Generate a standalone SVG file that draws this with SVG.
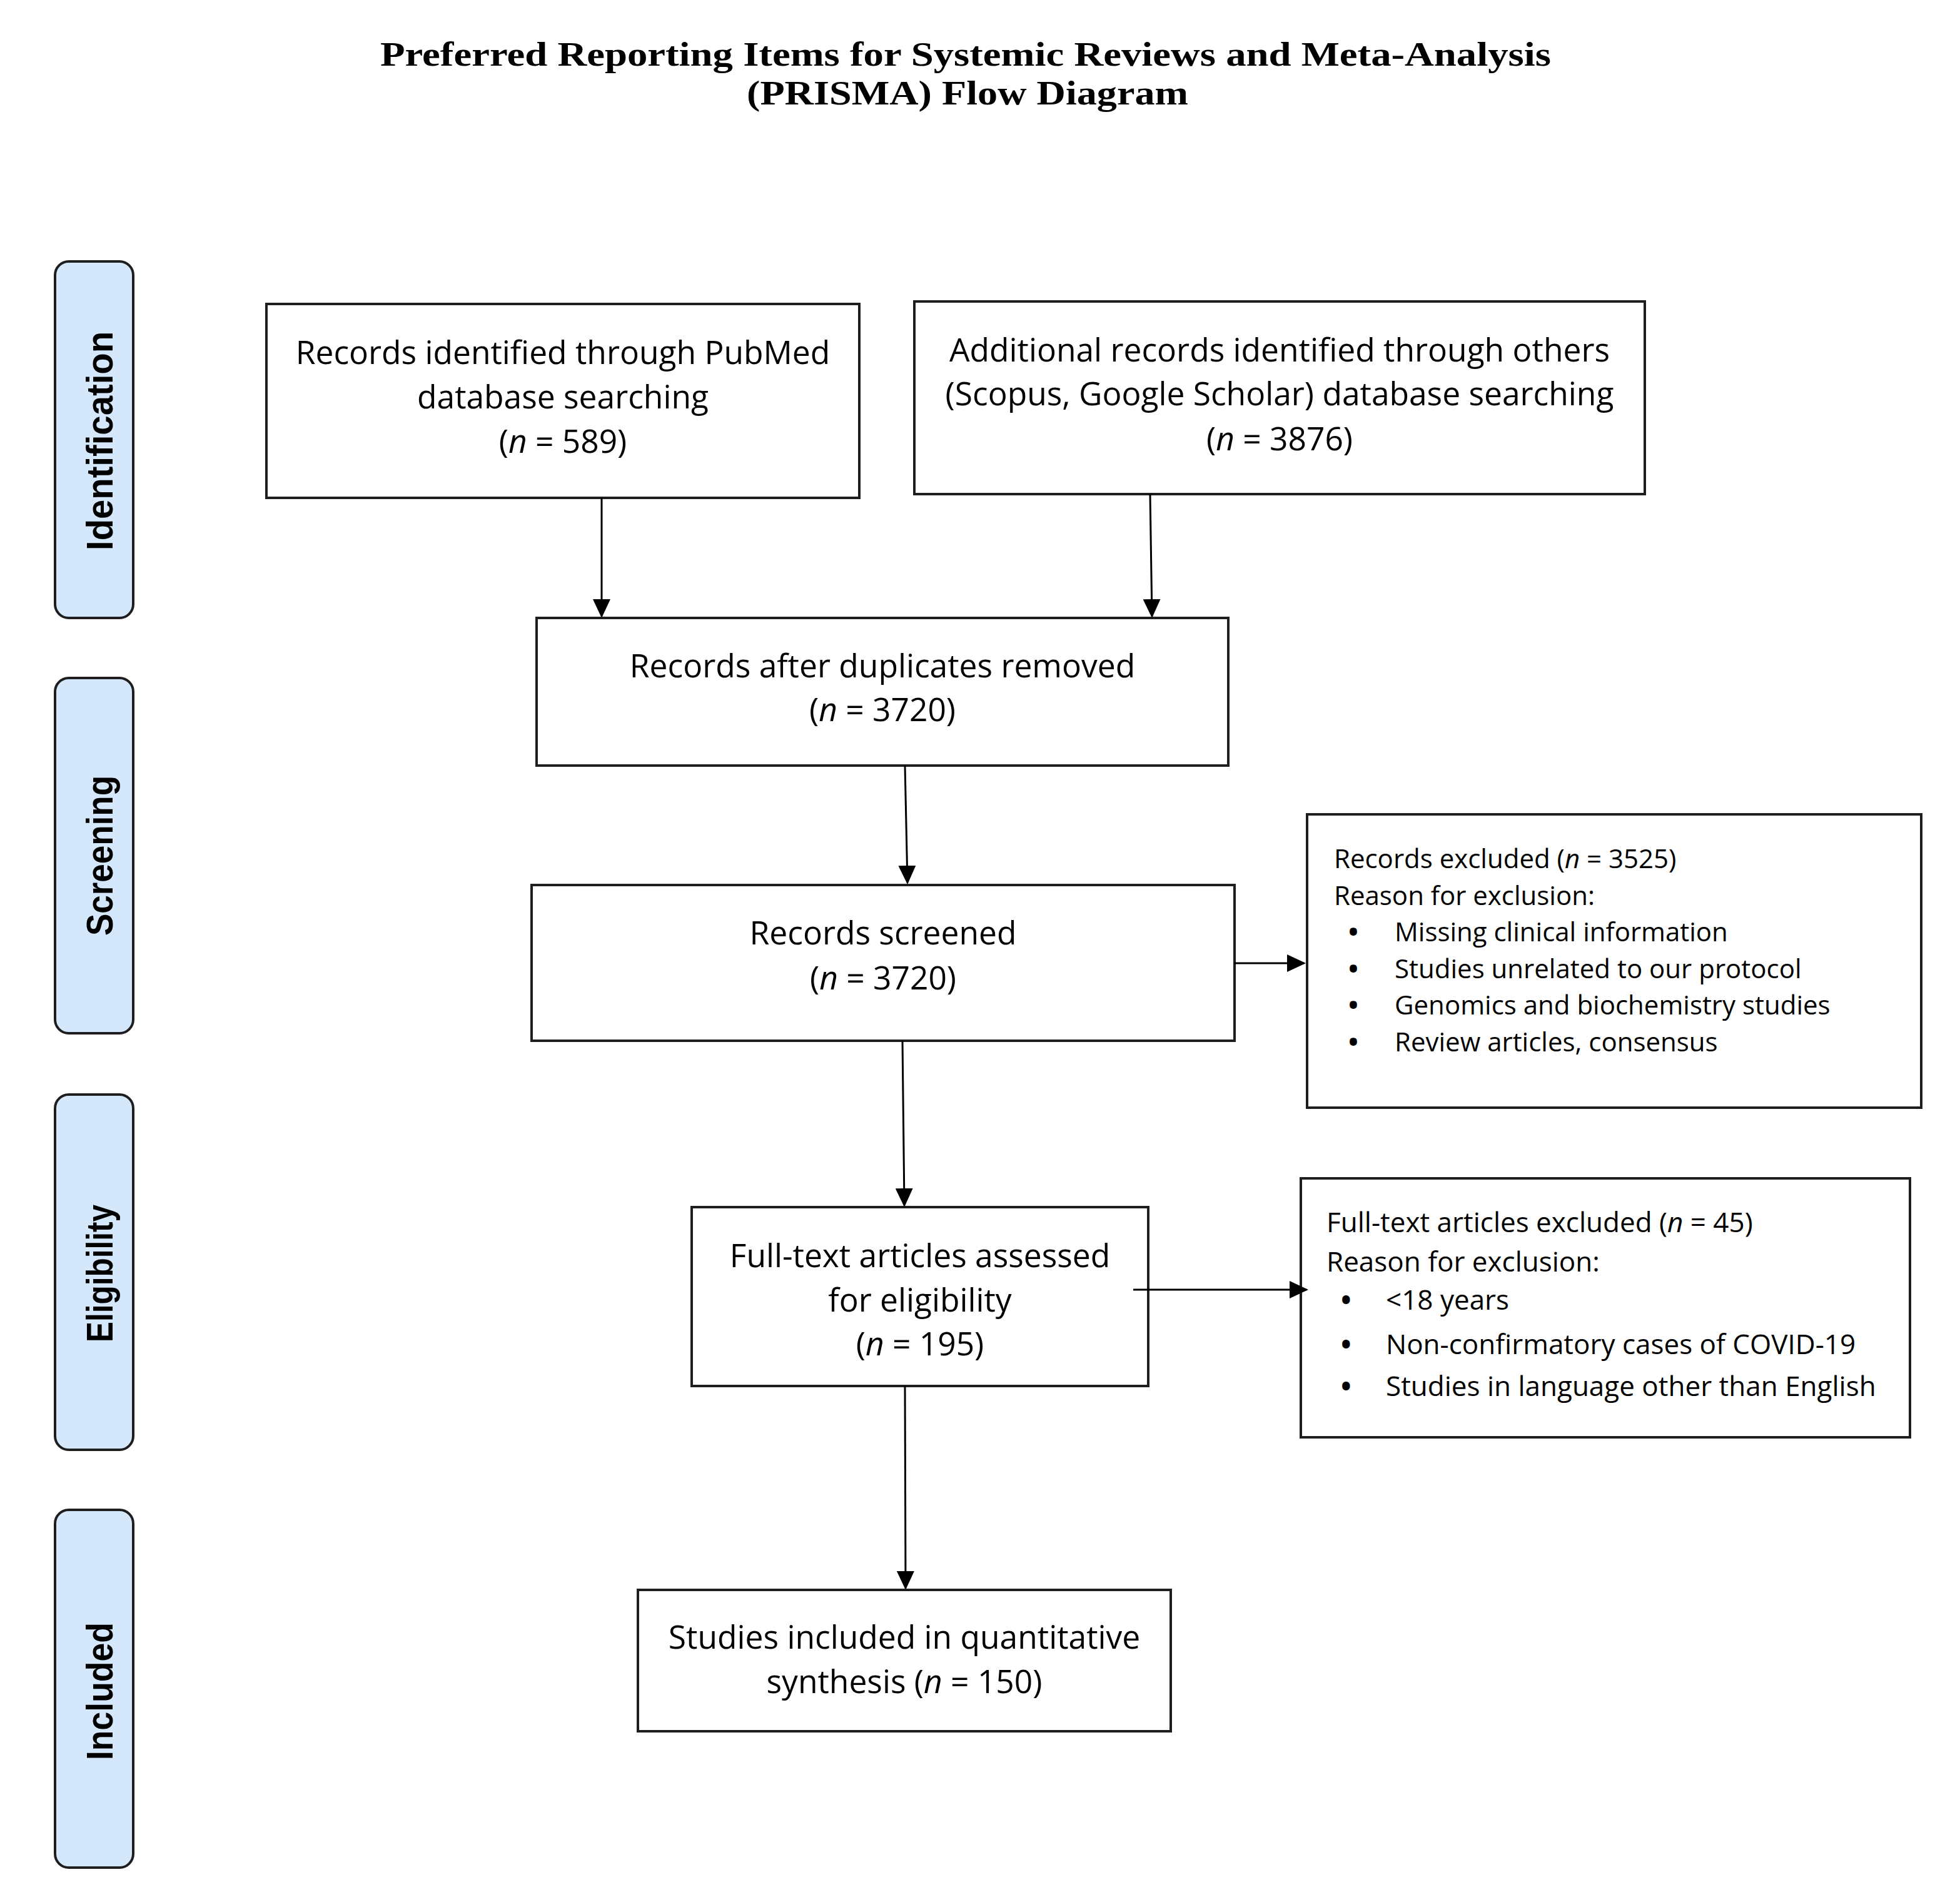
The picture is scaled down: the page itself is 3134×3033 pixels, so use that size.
<svg xmlns="http://www.w3.org/2000/svg" width="3134" height="3033" viewBox="0 0 3134 3033">
<defs>
<style>
.title{font-family:"Liberation Serif","Times New Roman",serif;font-weight:bold;font-size:55px;fill:#000}
.lane rect{fill:#d5e8fb;stroke:#1e1e1e;stroke-width:4}
.lane text{font-family:"Liberation Sans",Arial,sans-serif;font-weight:bold;font-size:60px;fill:#000;text-anchor:middle}
.box rect{fill:#fff;stroke:#1e1e1e;stroke-width:4}
.box text{font-family:"Open Sans","Noto Sans",sans-serif;font-size:51.5px;fill:#000}
.c text{text-anchor:middle}
.ex text{font-size:42px}
.ex2 text{font-size:44px}
.b{font-weight:bold}
.i{font-style:italic}
.conn line{stroke:#000;stroke-width:3;fill:none;marker-end:url(#ah)}
</style>
<marker id="ah" viewBox="0 0 30 28" refX="27" refY="14" markerWidth="30" markerHeight="28" markerUnits="userSpaceOnUse" orient="auto">
<path d="M0,0 L30,14 L0,28 z" fill="#000"/>
</marker>
</defs>
<rect x="0" y="0" width="3134" height="3033" fill="#fff"/>
<g id="title">
<text class="title" x="1544" y="105" text-anchor="middle" textLength="1872" lengthAdjust="spacingAndGlyphs">Preferred Reporting Items for Systemic Reviews and Meta-Analysis</text>
<text class="title" x="1547" y="167" text-anchor="middle" textLength="706" lengthAdjust="spacingAndGlyphs">(PRISMA) Flow Diagram</text>
</g>
<g id="lane-identification" class="lane">
<rect x="88" y="418" width="125" height="570" rx="22"/>
<text transform="translate(180,705) rotate(-90)" textLength="350" lengthAdjust="spacingAndGlyphs">Identification</text>
</g>
<g id="lane-screening" class="lane">
<rect x="88" y="1084" width="125" height="568" rx="22"/>
<text transform="translate(180,1368) rotate(-90)" textLength="256" lengthAdjust="spacingAndGlyphs">Screening</text>
</g>
<g id="lane-eligibility" class="lane">
<rect x="88" y="1750" width="125" height="568" rx="22"/>
<text transform="translate(180,2036) rotate(-90)" textLength="220" lengthAdjust="spacingAndGlyphs">Eligibility</text>
</g>
<g id="lane-included" class="lane">
<rect x="88" y="2414" width="125" height="572" rx="22"/>
<text transform="translate(180,2704) rotate(-90)" textLength="220" lengthAdjust="spacingAndGlyphs">Included</text>
</g>
<g id="box-pubmed" class="box c">
<rect x="426" y="486" width="948" height="310"/>
<text x="900" y="582">Records identified through PubMed</text>
<text x="900" y="653">database searching</text>
<text x="900" y="724">(<tspan class="i">n</tspan> = 589)</text>
</g>
<g id="box-additional" class="box c">
<rect x="1462" y="482" width="1168" height="308"/>
<text x="2046" y="578">Additional records identified through others</text>
<text x="2046" y="648">(Scopus, Google Scholar) database searching</text>
<text x="2046" y="720">(<tspan class="i">n</tspan> = 3876)</text>
</g>
<g id="box-duplicates" class="box c">
<rect x="858" y="988" width="1106" height="236"/>
<text x="1411" y="1083">Records after duplicates removed</text>
<text x="1411" y="1153">(<tspan class="i">n</tspan> = 3720)</text>
</g>
<g id="box-screened" class="box c">
<rect x="850" y="1415" width="1124" height="249"/>
<text x="1412" y="1510">Records screened</text>
<text x="1412" y="1582">(<tspan class="i">n</tspan> = 3720)</text>
</g>
<g id="box-records-excluded" class="box ex">
<rect x="2090" y="1302" width="982" height="469"/>
<text x="2133" y="1388">Records excluded (<tspan class="i">n</tspan> = 3525)</text>
<text x="2133" y="1447">Reason for exclusion:</text>
<text y="1505"><tspan x="2156" class="b">•</tspan><tspan x="2230">Missing clinical information</tspan></text>
<text y="1564"><tspan x="2156" class="b">•</tspan><tspan x="2230">Studies unrelated to our protocol</tspan></text>
<text y="1622"><tspan x="2156" class="b">•</tspan><tspan x="2230">Genomics and biochemistry studies</tspan></text>
<text y="1681"><tspan x="2156" class="b">•</tspan><tspan x="2230">Review articles, consensus</tspan></text>
</g>
<g id="box-fulltext" class="box c">
<rect x="1106" y="1930" width="730" height="286"/>
<text x="1471" y="2026">Full-text articles assessed</text>
<text x="1471" y="2097">for eligibility</text>
<text x="1471" y="2167">(<tspan class="i">n</tspan> = 195)</text>
</g>
<g id="box-fulltext-excluded" class="box ex2">
<rect x="2080" y="1884" width="974" height="414"/>
<text x="2121" y="1970">Full-text articles excluded (<tspan class="i">n</tspan> = 45)</text>
<text x="2121" y="2033">Reason for exclusion:</text>
<text y="2094"><tspan x="2144" class="b">•</tspan><tspan x="2216">&lt;18 years</tspan></text>
<text y="2165"><tspan x="2144" class="b">•</tspan><tspan x="2216">Non-confirmatory cases of COVID-19</tspan></text>
<text y="2232"><tspan x="2144" class="b">•</tspan><tspan x="2216">Studies in language other than English</tspan></text>
</g>
<g id="box-included" class="box c">
<rect x="1020" y="2542" width="852" height="226"/>
<text x="1446" y="2636">Studies included in quantitative</text>
<text x="1446" y="2707">synthesis (<tspan class="i">n</tspan> = 150)</text>
</g>
<g id="connectors" class="conn">
<line x1="962" y1="796" x2="962" y2="985"/>
<line x1="1839" y1="790" x2="1842" y2="985"/>
<line x1="1447" y1="1224" x2="1451" y2="1411"/>
<line x1="1974" y1="1540" x2="2085" y2="1540"/>
<line x1="1443" y1="1664" x2="1446" y2="1927"/>
<line x1="1812" y1="2062" x2="2089" y2="2062"/>
<line x1="1447" y1="2216" x2="1448" y2="2539"/>
</g>
</svg>
